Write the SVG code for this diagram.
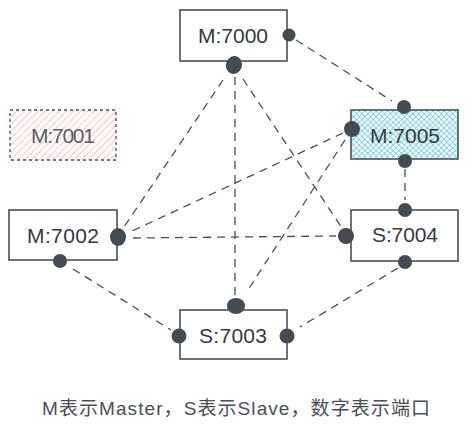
<svg xmlns="http://www.w3.org/2000/svg" width="467" height="431" viewBox="0 0 467 431">
<defs>
<pattern id="pink" width="5" height="5" patternUnits="userSpaceOnUse" patternTransform="rotate(45)">
<line x1="0" y1="0" x2="0" y2="5" stroke="#ff9b9b" stroke-width="1.3"/>
</pattern>
<pattern id="cyan" width="4" height="4" patternUnits="userSpaceOnUse" patternTransform="rotate(45)">
<line x1="0" y1="0" x2="0" y2="4" stroke="#22b8cf" stroke-width="1.1"/>
<line x1="0" y1="0" x2="4" y2="0" stroke="#22b8cf" stroke-width="1.1"/>
</pattern>
<style>
.box{fill:#fff;stroke:#495057;stroke-width:1.6}
.lbl{font-family:"Liberation Sans","Noto Sans CJK SC",sans-serif;font-size:21px;fill:#343a40;text-anchor:middle;dominant-baseline:central}
.dot{fill:#454b52}
.con line{stroke:#495057;stroke-width:1.3;stroke-dasharray:8 6;fill:none}
</style>
</defs>
<rect width="467" height="431" fill="#fff"/>
<g id="connectors" class="con">
<line x1="296" y1="40" x2="392" y2="101"/>
<line x1="223" y1="80" x2="122" y2="230"/>
<line x1="235" y1="77" x2="235" y2="295"/>
<line x1="243" y1="79" x2="342" y2="228"/>
<line x1="343" y1="133" x2="130" y2="232"/>
<line x1="345" y1="140" x2="246" y2="293"/>
<line x1="405" y1="169" x2="405" y2="200"/>
<line x1="133" y1="238" x2="336" y2="236"/>
<line x1="73" y1="269" x2="171" y2="330"/>
<line x1="398" y1="268" x2="300" y2="327"/>
</g>
<g id="n7000">
<rect class="box" x="180" y="10" width="107" height="51"/>
<text class="lbl" x="233" y="35" textLength="70">M:7000</text>
<circle class="dot" cx="289" cy="35" r="6.5"/>
<ellipse class="dot" cx="234" cy="65" rx="8" ry="9" transform="rotate(20 234 65)"/>
</g>
<g id="n7001">
<rect x="10" y="110" width="106" height="50" fill="url(#pink)" stroke="#495057" stroke-width="1.3" stroke-dasharray="3 3"/>
<text class="lbl" x="63" y="135" textLength="64" style="opacity:0.8">M:7001</text>
</g>
<g id="n7005">
<rect x="351" y="110" width="107" height="49" fill="url(#cyan)" stroke="#495057" stroke-width="1.6"/>
<text class="lbl" x="405" y="135" textLength="70">M:7005</text>
<circle class="dot" cx="404" cy="107" r="7"/>
<circle class="dot" cx="352" cy="129" r="8"/>
<circle class="dot" cx="405" cy="161" r="7"/>
</g>
<g id="n7002">
<rect class="box" x="9" y="210" width="108" height="50"/>
<text class="lbl" x="63" y="235" textLength="72">M:7002</text>
<ellipse class="dot" cx="118" cy="237" rx="8" ry="9"/>
<circle class="dot" cx="60" cy="261" r="7"/>
</g>
<g id="n7004">
<rect class="box" x="351" y="210" width="107" height="51"/>
<text class="lbl" x="405" y="234" textLength="66">S:7004</text>
<circle class="dot" cx="405" cy="210" r="7"/>
<circle class="dot" cx="346" cy="236" r="8"/>
<circle class="dot" cx="405" cy="262" r="7"/>
</g>
<g id="n7003">
<rect class="box" x="180" y="310" width="107" height="49"/>
<text class="lbl" x="233" y="335" textLength="68">S:7003</text>
<ellipse class="dot" cx="236" cy="306" rx="9" ry="8"/>
<circle class="dot" cx="179" cy="336" r="7.5"/>
<circle class="dot" cx="287" cy="336" r="7.5"/>
</g>
<text x="236" y="408" font-family="'Liberation Sans','Noto Sans CJK SC',sans-serif" font-size="19" fill="#495057" text-anchor="middle" dominant-baseline="central" textLength="388">M表示Master，S表示Slave，数字表示端口</text>
</svg>
